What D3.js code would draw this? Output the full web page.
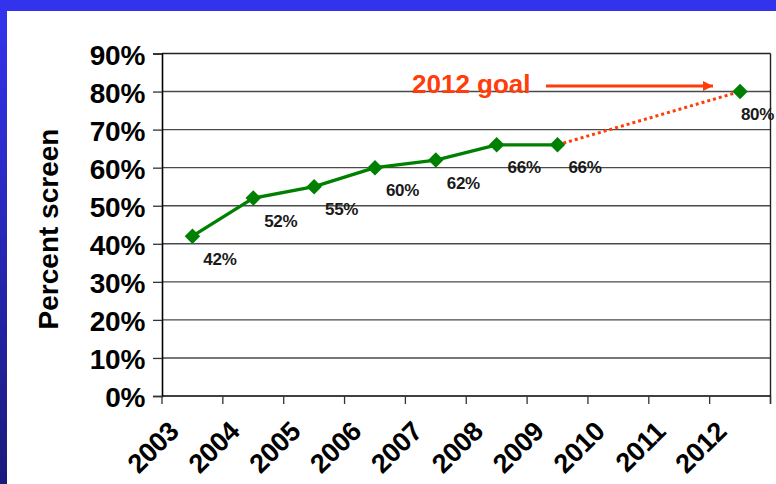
<!DOCTYPE html>
<html>
<head>
<meta charset="utf-8">
<script src="https://cdn.jsdelivr.net/npm/d3@7"></script>
<style>
  html, body { margin: 0; padding: 0; background: #fff; }
  svg { display: block; }
  text { font-family: "Liberation Sans", Arial, Helvetica, sans-serif; font-weight: bold; }
</style>
</head>
<body>
<svg id="chart" width="776" height="484"></svg>
<script>
// ---- data ----
const years = ["2003","2004","2005","2006","2007","2008","2009","2010","2011","2012"];
const actualYears = ["2003","2004","2005","2006","2007","2008","2009"];
const actualValues = [0.42, 0.52, 0.55, 0.60, 0.62, 0.66, 0.66];
const goalYears = ["2009","2012"];
const goalValues = [0.66, 0.80];
const yTicks = [0, 0.1, 0.2, 0.3, 0.4, 0.5, 0.6, 0.7, 0.8, 0.9];
const yTitle = "Percent screen";
const goalText = "2012 goal";

// ---- layout ----
const W = 776, H = 484;
const plot = { left: 162, right: 770.5, top: 53.5, bottom: 396 };
const svg = d3.select("#chart");

// background frame
const defs = svg.append("defs");
const grad = defs.append("linearGradient").attr("id", "sideGrad")
  .attr("x1", 0).attr("y1", 0).attr("x2", 0).attr("y2", 1);
grad.append("stop").attr("offset", "0%").attr("stop-color", "#3434f0");
grad.append("stop").attr("offset", "100%").attr("stop-color", "#1a1a7c");
svg.append("rect").attr("width", W).attr("height", H).attr("fill", "#fff");
svg.append("rect").attr("x", 0).attr("y", 0).attr("width", 7).attr("height", H).attr("fill", "url(#sideGrad)");
svg.append("rect").attr("x", 0).attr("y", 0).attr("width", W).attr("height", 11).attr("fill", "#3333ee");

// scales
const x = d3.scaleBand().domain(years).range([plot.left, plot.right]).padding(0);
const y = d3.scaleLinear().domain([0, 0.9]).range([plot.bottom, plot.top]);
const cx = d => x(d) + x.bandwidth() / 2;

// gridlines
svg.append("g").selectAll("line").data(yTicks.filter(t => t > 0 && t < 0.9)).join("line")
  .attr("x1", plot.left).attr("x2", plot.right)
  .attr("y1", d => y(d)).attr("y2", d => y(d))
  .attr("stroke", "#4a4a4a").attr("stroke-width", 1.4);

// plot border top and right
svg.append("line").attr("x1", plot.left).attr("x2", plot.right).attr("y1", y(0.9)).attr("y2", y(0.9))
  .attr("stroke", "#222").attr("stroke-width", 1.4);
svg.append("line").attr("x1", plot.right).attr("x2", plot.right).attr("y1", plot.top).attr("y2", plot.bottom + 8)
  .attr("stroke", "#222").attr("stroke-width", 1.4);

// y axis
const yAxis = d3.axisLeft(y).tickValues(yTicks).tickFormat(d3.format(".0%")).tickSize(9).tickPadding(8);
const gy = svg.append("g").attr("transform", `translate(${plot.left},0)`).call(yAxis);
gy.select(".domain").attr("stroke", "#000").attr("stroke-width", 1.6);
gy.selectAll(".tick line").attr("stroke", "#333").attr("stroke-width", 1.3);
gy.selectAll(".tick text").attr("font-size", 28).attr("fill", "#000")
  .attr("font-family", '"Liberation Sans", Arial, sans-serif').attr("font-weight", "bold")
  .attr("letter-spacing", -0.3)
  .attr("dy", null).attr("dominant-baseline", null)
  .attr("y", 10.5);

// x axis (ticks at category boundaries)
svg.append("line").attr("x1", plot.left).attr("x2", plot.right).attr("y1", plot.bottom).attr("y2", plot.bottom)
  .attr("stroke", "#000").attr("stroke-width", 1.6);
const boundaries = years.map(d => x(d)).concat([plot.right]);
svg.append("g").selectAll("line").data(boundaries).join("line")
  .attr("x1", d => d).attr("x2", d => d).attr("y1", plot.bottom).attr("y2", plot.bottom + 8)
  .attr("stroke", "#333").attr("stroke-width", 1.3);
svg.append("g").selectAll("text").data(years).join("text")
  .attr("transform", d => `translate(${cx(d) - 12},${plot.bottom + 37}) rotate(-45)`)
  .attr("text-anchor", "end").attr("font-size", 27).attr("fill", "#000")
  .attr("letter-spacing", -0.3)
  .text(d => d);

// y title
svg.append("text").attr("transform", `translate(58,229) rotate(-90)`)
  .attr("text-anchor", "middle").attr("font-size", 28).attr("fill", "#000")
  .text(yTitle);

// goal dotted line
const goalColor = "#ff3c0a";
const line = d3.line().x(d => cx(d[0])).y(d => y(d[1]));
svg.append("path").datum(d3.zip(goalYears, goalValues)).attr("d", line)
  .attr("fill", "none").attr("stroke", goalColor).attr("stroke-width", 3).attr("stroke-dasharray", "3,3");

// actual line
const actual = d3.zip(actualYears, actualValues);
svg.append("path").datum(actual).attr("d", line)
  .attr("fill", "none").attr("stroke", "#008000").attr("stroke-width", 3.3).attr("stroke-linejoin", "round");

// markers
const diamond = d3.symbol().type(d3.symbolSquare).size(120);
const allPts = actual.concat([[goalYears[1], goalValues[1]]]);
svg.append("g").selectAll("path").data(allPts).join("path")
  .attr("d", diamond)
  .attr("transform", d => `translate(${cx(d[0])},${y(d[1])}) rotate(45)`)
  .attr("fill", "#008000");

// data labels
const fmt = d3.format(".0%");
svg.append("g").selectAll("text").data(allPts).join("text")
  .attr("x", d => cx(d[0]) + 27.5)
  .attr("y", d => y(d[1]) + 28.5)
  .attr("text-anchor", "middle").attr("font-size", 17).attr("fill", "#1a1a1a")
  .attr("letter-spacing", -0.3)
  .text(d => fmt(d[1]))
  .each(function() {
    const w = this.getComputedTextLength();
    const xv = +this.getAttribute("x");
    if (xv + w / 2 > W - 2) this.setAttribute("x", W - 2 - w / 2);
  });

// goal annotation
svg.append("text").attr("x", 412).attr("y", 93).attr("font-size", 26).attr("fill", goalColor)
  .text(goalText);
defs.append("marker").attr("id", "arrow").attr("viewBox", "0 0 10 10")
  .attr("refX", 10).attr("refY", 5).attr("markerWidth", 3.6).attr("markerHeight", 3.6)
  .attr("markerUnits", "strokeWidth").attr("orient", "auto")
  .append("path").attr("d", "M0,0 L10,5 L0,10 Z").attr("fill", goalColor);
svg.append("line").attr("x1", 546).attr("x2", 713).attr("y1", 86).attr("y2", 86)
  .attr("stroke", goalColor).attr("stroke-width", 2.8).attr("marker-end", "url(#arrow)");
</script>
</body>
</html>
